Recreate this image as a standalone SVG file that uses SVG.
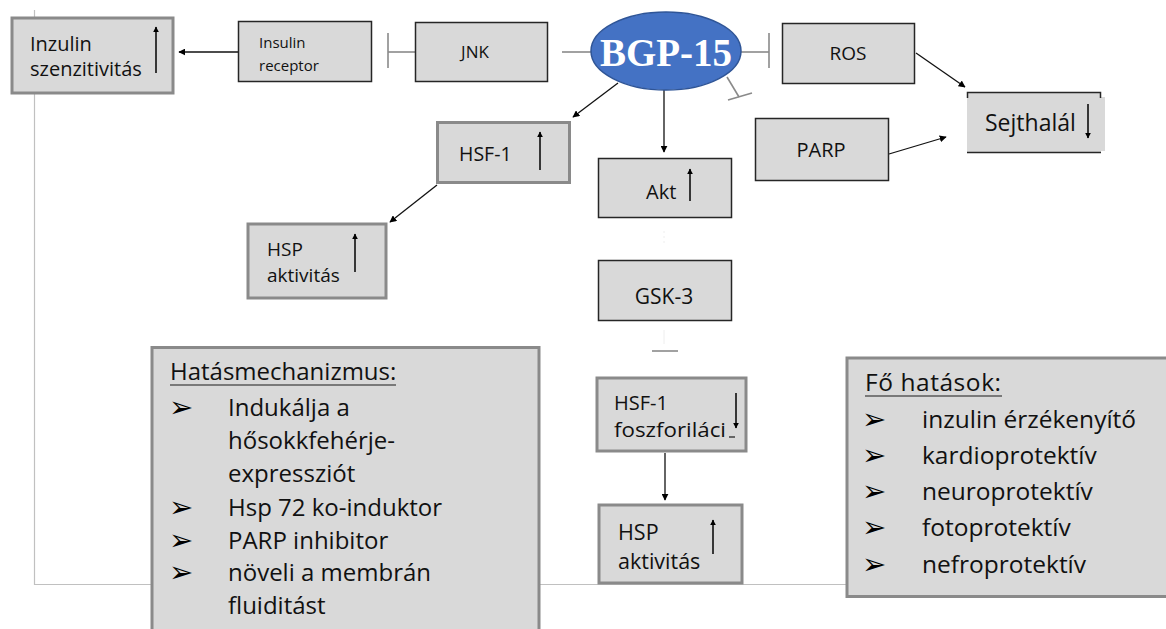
<svg xmlns="http://www.w3.org/2000/svg" width="1166" height="629" viewBox="0 0 1166 629">
<defs>
<marker id="ah" viewBox="0 0 10 10" refX="9" refY="5" markerWidth="7" markerHeight="7" orient="auto" markerUnits="userSpaceOnUse"><path d="M0,0 L10,5 L0,10 z" fill="#000"/></marker>
<marker id="ah2" viewBox="0 0 10 10" refX="9" refY="5" markerWidth="6" markerHeight="6" orient="auto" markerUnits="userSpaceOnUse"><path d="M0,0 L10,5 L0,10 z" fill="#000"/></marker>
<style>
.thin{fill:#d9d9d9;stroke:#262626;stroke-width:1.5}
.thick{fill:#d9d9d9;stroke:#8a8a8a;stroke-width:3}
.t{font-family:"Open Sans","Liberation Sans",sans-serif;fill:#111}
.con{stroke:#111;stroke-width:1.3;fill:none;marker-end:url(#ah)}
.inh{stroke:#8a8a8a;stroke-width:1.6;fill:none}
.ud{stroke:#000;stroke-width:1.5;fill:none;marker-end:url(#ah2)}
.bul{font-family:"DejaVu Sans",sans-serif;font-size:29px;fill:#000}
.li{font-family:"Open Sans","Liberation Sans",sans-serif;font-size:24px;fill:#111}
.lf{font-family:"Open Sans","Liberation Sans",sans-serif;font-size:24.5px;fill:#111}
</style>
</defs>
<rect width="1166" height="629" fill="#fff"/>
<path d="M34.5,10 V584.5 H1150" fill="none" stroke="#c0c0c0" stroke-width="1.2"/>

<g id="connectors">
<line class="con" x1="238" y1="52" x2="179" y2="52"/>
<line class="inh" x1="415" y1="52" x2="388" y2="52"/>
<line class="inh" x1="388" y1="33" x2="388" y2="68"/>
<line class="inh" x1="562" y1="52" x2="592" y2="52"/>
<line class="inh" x1="741" y1="52" x2="769" y2="52"/>
<line class="inh" x1="769" y1="33" x2="769" y2="68"/>
<line class="inh" x1="727" y1="77" x2="739" y2="97"/>
<line class="inh" x1="728" y1="100" x2="752" y2="93"/>
<line class="con" x1="916" y1="53" x2="965" y2="87"/>
<line class="con" x1="889" y1="154" x2="946" y2="137"/>
<line class="con" x1="618" y1="83" x2="573" y2="117"/>
<line class="con" x1="664" y1="90" x2="664" y2="152"/>
<line class="con" x1="437" y1="185" x2="390" y2="222"/>
<line x1="664" y1="231" x2="664" y2="246" stroke="#eeeeee" stroke-width="1" stroke-dasharray="2,3"/>
<line x1="664" y1="330" x2="664" y2="344" stroke="#eeeeee" stroke-width="1"/>
<line class="inh" x1="652" y1="351" x2="678" y2="351"/>
<line class="con" x1="665" y1="453" x2="665" y2="500"/>
</g>

<g id="inzulin-szenzitivitas">
<rect class="thick" x="12" y="18" width="161" height="75"/>
<text class="t" font-size="20" x="30" y="51">Inzulin</text>
<text class="t" font-size="20" x="30" y="76">szenzitivitás</text>
<line class="ud" x1="156" y1="73" x2="156" y2="27"/>
</g>

<g id="insulin-receptor">
<rect class="thin" x="238.5" y="21.5" width="133" height="60"/>
<text class="t" font-size="15" x="259" y="48">Insulin</text>
<text class="t" font-size="15" x="259" y="71">receptor</text>
</g>

<g id="jnk">
<rect class="thin" x="415.5" y="22.5" width="132" height="59"/>
<text class="t" font-size="17" x="475" y="58" text-anchor="middle">JNK</text>
</g>

<g id="bgp15">
<ellipse cx="666" cy="51" rx="75" ry="39" fill="#4472c4" stroke="#2f5597" stroke-width="1.5"/>
<text x="666" y="66" text-anchor="middle" font-family="'Liberation Serif','Times New Roman',serif" font-weight="bold" font-size="39" fill="#fff">BGP-15</text>
</g>

<g id="ros">
<rect class="thin" x="782.5" y="23.5" width="132" height="60"/>
<text class="t" font-size="19" x="848" y="60" text-anchor="middle">ROS</text>
</g>

<g id="sejthalal">
<rect x="968" y="97" width="137" height="54" fill="#d9d9d9"/>
<rect x="967" y="92" width="134" height="61" fill="#d9d9d9"/>
<path d="M967.5,98 V92.5 H1100.5 V98" fill="none" stroke="#262626" stroke-width="1.5"/>
<line x1="967" y1="152.5" x2="1101" y2="152.5" stroke="#262626" stroke-width="1.5"/>
<text class="t" font-size="23" x="985" y="131">Sejthalál</text>
<line class="ud" x1="1088" y1="104" x2="1088" y2="138"/>
</g>

<g id="parp">
<rect class="thin" x="755.5" y="118.5" width="133" height="62"/>
<text class="t" font-size="20" x="821" y="157" text-anchor="middle">PARP</text>
</g>

<g id="hsf1">
<rect class="thick" x="437.5" y="122.5" width="132" height="60" stroke-width="2"/>
<text class="t" font-size="19.5" x="459" y="161">HSF-1</text>
<line class="ud" x1="540" y1="170" x2="540" y2="132"/>
</g>

<g id="hsp-aktivitas-1">
<rect class="thick" x="248" y="224" width="138" height="74"/>
<text class="t" font-size="19" x="267" y="256">HSP</text>
<text class="t" font-size="19" x="267" y="282">aktivitás</text>
<line class="ud" x1="355" y1="272" x2="355" y2="234"/>
</g>

<g id="akt">
<rect class="thin" x="598.5" y="158.5" width="133" height="59"/>
<text class="t" font-size="20" x="646" y="199">Akt</text>
<line class="ud" x1="690" y1="201" x2="690" y2="169"/>
</g>

<g id="gsk3">
<rect class="thin" x="598.5" y="260.5" width="133" height="60"/>
<text class="t" font-size="21" x="664" y="304" text-anchor="middle">GSK-3</text>
</g>

<g id="hsf1-foszforilacio">
<rect class="thick" x="597" y="378" width="149" height="73"/>
<text class="t" font-size="20" x="614" y="410">HSF-1</text>
<text class="t" font-size="20" x="614" y="437" textLength="112" lengthAdjust="spacingAndGlyphs">foszforiláci</text>
<line x1="729" y1="437" x2="735" y2="437" stroke="#1a1a1a" stroke-width="1.2"/>
<line class="ud" x1="736" y1="393" x2="736" y2="428"/>
</g>

<g id="hsp-aktivitas-2">
<rect class="thick" x="599" y="505" width="143" height="78"/>
<text class="t" font-size="21.5" x="618" y="540">HSP</text>
<text class="t" font-size="21.5" x="618" y="569">aktivitás</text>
<line class="ud" x1="713" y1="554" x2="713" y2="520"/>
</g>

<g id="hatasmechanizmus">
<rect class="thick" x="152" y="347.5" width="387" height="290"/>
<text class="li" x="170" y="380">Hatásmechanizmus:</text>
<line x1="170" y1="385" x2="396" y2="385" stroke="#1a1a1a" stroke-width="1.2"/>
<text class="bul" x="169" y="417">➢</text>
<text class="li" x="228" y="416">Indukálja a</text>
<text class="li" x="228" y="449">hősokkfehérje-</text>
<text class="li" x="228" y="482">expressziót</text>
<text class="bul" x="169" y="517">➢</text>
<text class="li" x="228" y="516">Hsp 72 ko-induktor</text>
<text class="bul" x="169" y="550">➢</text>
<text class="li" x="228" y="549">PARP inhibitor</text>
<text class="bul" x="169" y="582">➢</text>
<text class="li" x="228" y="581">növeli a membrán</text>
<text class="li" x="228" y="614">fluiditást</text>
</g>

<g id="fo-hatasok">
<rect class="thick" x="847" y="358" width="330" height="238.5"/>
<text class="lf" x="865" y="391" textLength="136" lengthAdjust="spacing">Fő hatások:</text>
<line x1="865" y1="396" x2="1002" y2="396" stroke="#1a1a1a" stroke-width="1.2"/>
<text class="bul" x="862" y="429">➢</text>
<text class="lf" x="922" y="428">inzulin érzékenyítő</text>
<text class="bul" x="862" y="465">➢</text>
<text class="lf" x="922" y="464">kardioprotektív</text>
<text class="bul" x="862" y="501">➢</text>
<text class="lf" x="922" y="500">neuroprotektív</text>
<text class="bul" x="862" y="537">➢</text>
<text class="lf" x="922" y="536">fotoprotektív</text>
<text class="bul" x="862" y="574">➢</text>
<text class="lf" x="922" y="573">nefroprotektív</text>
</g>
</svg>
